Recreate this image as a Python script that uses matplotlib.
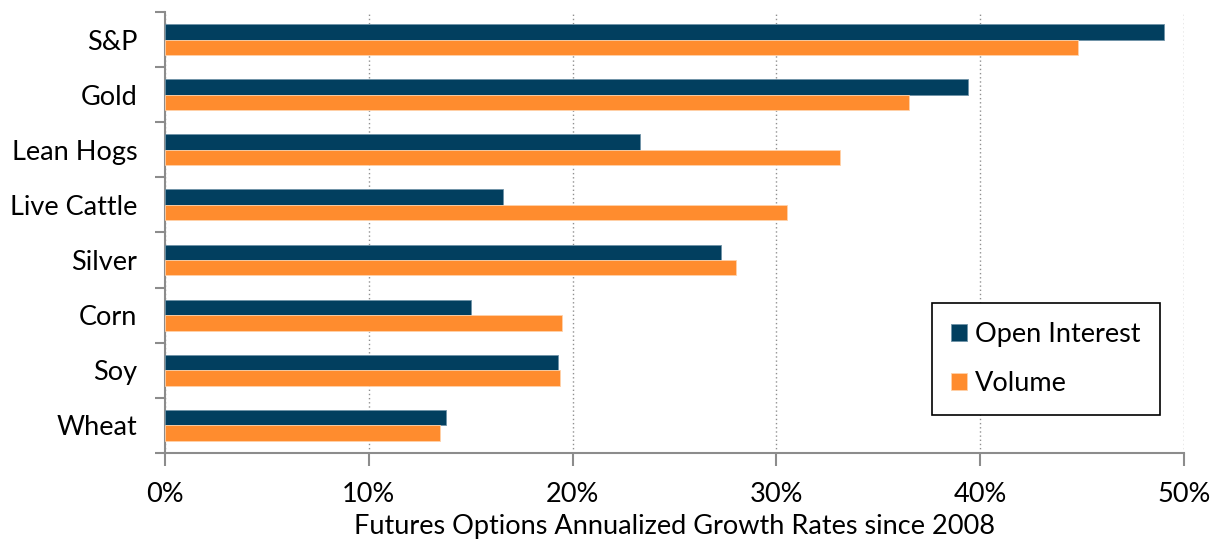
import matplotlib
matplotlib.use("Agg")
import matplotlib.pyplot as plt
import numpy as np
from matplotlib.ticker import FuncFormatter, FixedLocator

categories = ["S&P", "Gold", "Lean Hogs", "Live Cattle", "Silver", "Corn", "Soy", "Wheat"]
open_interest = [49.0, 39.4, 23.3, 16.6, 27.3, 15.0, 19.3, 13.8]
volume = [44.8, 36.5, 33.1, 30.5, 28.0, 19.5, 19.4, 13.5]
xticks = [0, 10, 20, 30, 40, 50]

navy = "#023F5F"
orange = "#FF8C2E"
grey = "#8C8C8C"

plt.rcParams['font.family'] = ['Lato', 'DejaVu Sans']

fig = plt.figure(figsize=(12.19, 5.44), dpi=100)
ax = fig.add_axes([0.1354, 0.1673, 0.8359, 0.8107])

n = len(categories)
y = np.arange(n)
h = 0.28
ax.barh(y - h / 2, open_interest, height=h, color=navy, edgecolor="#6F93A8", linewidth=0.6,
        label="Open Interest", zorder=3)
ax.barh(y + h / 2, volume, height=h, color=orange, edgecolor="#FFD2AA", linewidth=0.6,
        label="Volume", zorder=3)

ax.set_ylim(n - 0.5, -0.5)
ax.set_xlim(0, 50)

fs = 19.5
ax.set_yticks(y)
ax.set_yticklabels(categories, fontsize=fs)
ax.yaxis.set_minor_locator(FixedLocator(np.arange(-0.5, n, 1.0)))
ax.tick_params(axis='y', which='major', length=0, pad=20)
ax.tick_params(axis='y', which='minor', length=7, width=1.5, color=grey)

ax.set_xticks(xticks)
ax.xaxis.set_major_formatter(FuncFormatter(lambda v, p: f"{v:.0f}%"))
ax.tick_params(axis='x', which='major', length=9, width=1.5, color=grey, labelsize=fs, pad=12)

ax.grid(axis='x', linestyle=(0, (1, 2)), color="#909090", linewidth=1.0, zorder=0)

for s in ["top", "right"]:
    ax.spines[s].set_visible(False)
for s in ["left", "bottom"]:
    ax.spines[s].set_color(grey)
    ax.spines[s].set_linewidth(1.5)

ax.set_xlabel("Futures Options Annualized Growth Rates since 2008", fontsize=fs, labelpad=5)

leg = ax.legend(loc='upper right', bbox_to_anchor=(0.976, 0.34), fontsize=fs,
                frameon=True, fancybox=False, edgecolor="black", framealpha=1,
                handlelength=0.6, handleheight=0.6, handletextpad=0.3,
                labelspacing=0.9, borderpad=0.7, borderaxespad=0)
leg.get_frame().set_linewidth(1.2)

fig.savefig("out.png", dpi=100)
